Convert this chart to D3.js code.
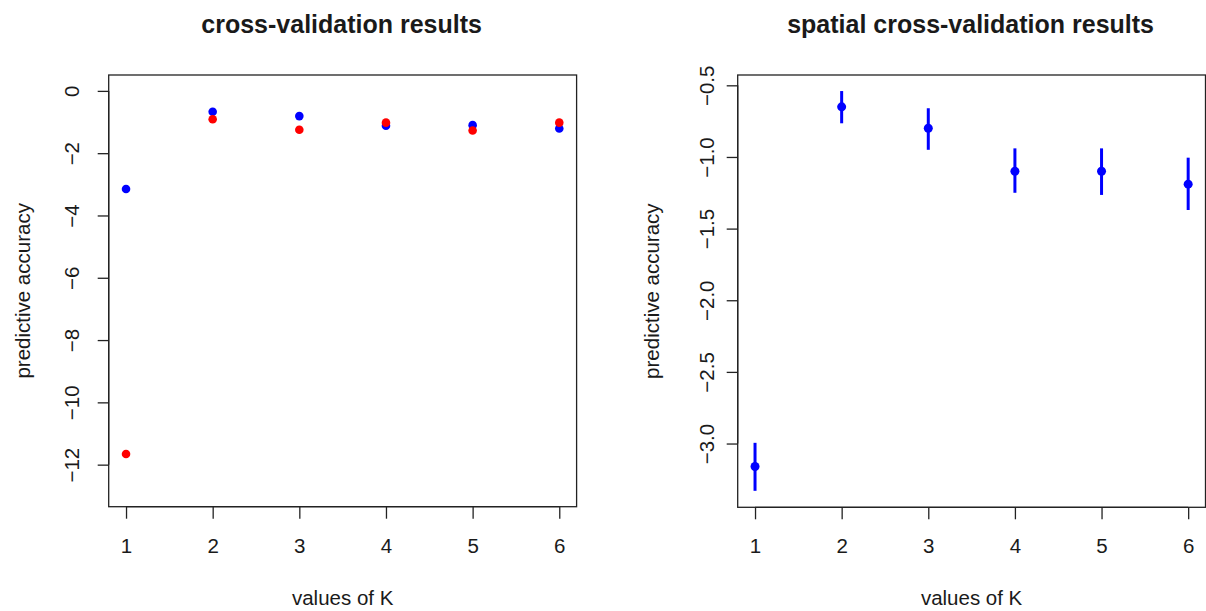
<!DOCTYPE html>
<html>
<head>
<meta charset="utf-8">
<script src="https://cdn.jsdelivr.net/npm/d3@7"></script>
<style>
  html, body { margin: 0; padding: 0; background: #fff; }
  svg { display: block; font-family: "Liberation Sans", Arial, sans-serif; }
</style>
</head>
<body>
<svg id="chart" width="1206" height="611"></svg>
<script>
// Values of K tested
const kValues = [1, 2, 3, 4, 5, 6];

// Ordinary cross-validation: two runs (blue, red)
const cvBlue = [-3.15, -0.67, -0.81, -1.12, -1.10, -1.21];
const cvRed  = [-11.66, -0.91, -1.25, -1.02, -1.27, -1.02];

// Spatial cross-validation: mean with lower / upper bounds
const spatialMean  = [-3.16, -0.65, -0.80, -1.10, -1.10, -1.19];
const spatialLower = [-3.33, -0.765, -0.95, -1.25, -1.265, -1.37];
const spatialUpper = [-2.995, -0.54, -0.66, -0.94, -0.94, -1.005];

// Tick labels
const xTicks = [1, 2, 3, 4, 5, 6];
const leftYTicks = [0, -2, -4, -6, -8, -10, -12];
const rightYTicks = [-0.5, -1.0, -1.5, -2.0, -2.5, -3.0];

const svg = d3.select("#chart");
const ink = "#1a1a1a";
const fs = 20.5;

function panel(opts) {
  const g = svg.append("g");
  const x = d3.scaleLinear().domain([0.8, 6.2]).range([opts.left, opts.right]);
  const y = d3.scaleLinear().domain(opts.yDomain).range([opts.bottom, opts.top]);

  // Box around plotting region
  g.append("rect")
    .attr("x", opts.left).attr("y", opts.top)
    .attr("width", opts.right - opts.left).attr("height", opts.bottom - opts.top)
    .attr("fill", "none").attr("stroke", "#222").attr("stroke-width", 1.3);

  // x axis
  const xAxis = d3.axisBottom(x).tickValues(xTicks).tickSize(12).tickFormat(d3.format("d"));
  const gx = g.append("g").attr("transform", `translate(0,${opts.bottom})`).call(xAxis);
  gx.select(".domain").attr("d", `M${x(xTicks[0])},0H${x(xTicks[xTicks.length - 1])}`)
    .attr("stroke", "#222").attr("stroke-width", 1.3);
  gx.selectAll(".tick line").attr("stroke", "#222").attr("stroke-width", 1.3);
  gx.selectAll(".tick text").attr("font-size", fs).attr("fill", ink)
    .attr("font-family", "Liberation Sans, Arial, sans-serif")
    .attr("y", null).attr("dy", null).attr("transform", `translate(0,${553 - opts.bottom})`);

  // y axis with vertical labels
  const yAxis = d3.axisLeft(y).tickValues(opts.yTicks).tickSize(11).tickFormat(opts.yFormat);
  const gy = g.append("g").attr("transform", `translate(${opts.left},0)`).call(yAxis);
  gy.select(".domain").attr("d", `M0,${y(opts.yTicks[0])}V${y(opts.yTicks[opts.yTicks.length - 1])}`)
    .attr("stroke", "#222").attr("stroke-width", 1.3);
  gy.selectAll(".tick line").attr("stroke", "#222").attr("stroke-width", 1.3);
  gy.selectAll(".tick text")
    .attr("font-size", fs).attr("fill", ink)
    .attr("font-family", "Liberation Sans, Arial, sans-serif")
    .attr("x", null).attr("dy", null)
    .attr("text-anchor", "middle")
    .attr("transform", `translate(${opts.tickLabelX - opts.left},0) rotate(-90)`);

  // Titles
  svg.append("text")
    .attr("x", (opts.left + opts.right) / 2 - 1).attr("y", 33)
    .attr("text-anchor", "middle").attr("font-size", 25).attr("font-weight", "bold")
    .attr("fill", ink).text(opts.title);

  svg.append("text")
    .attr("x", (opts.left + opts.right) / 2).attr("y", 605)
    .attr("text-anchor", "middle").attr("font-size", fs).attr("fill", ink)
    .text("values of K");

  svg.append("text")
    .attr("transform", `translate(${opts.left - 78.5},${(opts.top + opts.bottom) / 2}) rotate(-90)`)
    .attr("text-anchor", "middle").attr("font-size", fs).attr("fill", ink)
    .text("predictive accuracy");

  return { g, x, y };
}

// Left panel: cross-validation results
const L = panel({
  left: 108.7, right: 576.6, top: 75, bottom: 506.7,
  yDomain: [-13.35, 0.51], yTicks: leftYTicks, yFormat: d3.format("d"),
  tickLabelX: 79, title: "cross-validation results"
});

L.g.selectAll("circle.blue").data(kValues).join("circle")
  .attr("class", "blue")
  .attr("cx", d => L.x(d)).attr("cy", (d, i) => L.y(cvBlue[i]))
  .attr("r", 4.3).attr("fill", "#0000ff");

L.g.selectAll("circle.red").data(kValues).join("circle")
  .attr("class", "red")
  .attr("cx", d => L.x(d)).attr("cy", (d, i) => L.y(cvRed[i]))
  .attr("r", 4.3).attr("fill", "#ff0000");

// Right panel: spatial cross-validation results
const R = panel({
  left: 737.7, right: 1205.5, top: 75, bottom: 507.3,
  yDomain: [-3.445, -0.428], yTicks: rightYTicks, yFormat: d3.format(".1f"),
  tickLabelX: 713.5, title: "spatial cross-validation results"
});

R.g.selectAll("line.err").data(kValues).join("line")
  .attr("class", "err")
  .attr("x1", d => R.x(d)).attr("x2", d => R.x(d))
  .attr("y1", (d, i) => R.y(spatialLower[i])).attr("y2", (d, i) => R.y(spatialUpper[i]))
  .attr("stroke", "#0000ff").attr("stroke-width", 3);

R.g.selectAll("circle.mean").data(kValues).join("circle")
  .attr("class", "mean")
  .attr("cx", d => R.x(d)).attr("cy", (d, i) => R.y(spatialMean[i]))
  .attr("r", 4.5).attr("fill", "#0000ff");
</script>
</body>
</html>
